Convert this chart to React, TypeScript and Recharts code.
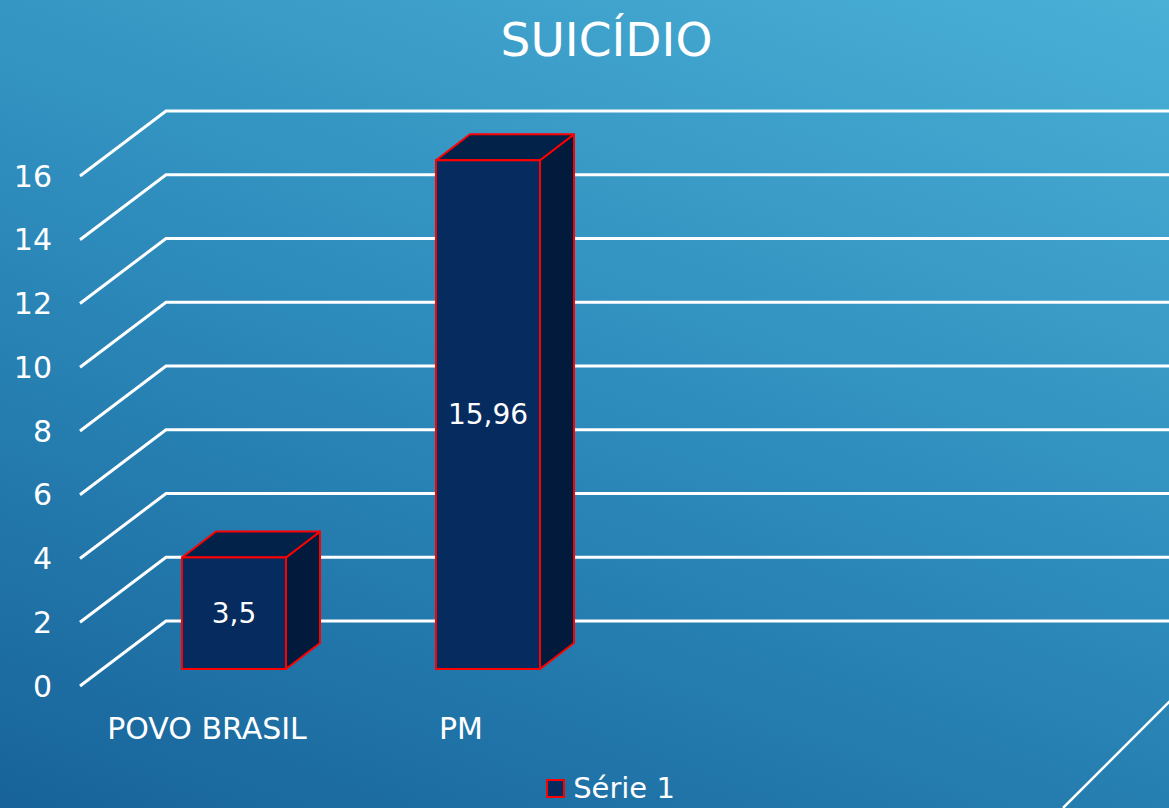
import { BarChart, Bar, XAxis, YAxis, CartesianGrid, Legend, LabelList } from 'recharts';

const categories = ['POVO BRASIL', 'PM'];
const serie1 = [3.5, 15.96];
const yTicks = [0, 2, 4, 6, 8, 10, 12, 14, 16];
const seriesName = 'Série 1';

const data = categories.map((name, i) => ({ name, value: serie1[i] }));

const W = 1169;
const H = 808;
const FONT = '"DejaVu Sans", sans-serif';

// 3D offsets (front plane -> bar front, bar depth, back wall)
const BAR_DX = 27;
const BAR_DY = -17;
const DEPTH_X = 34;
const DEPTH_Y = -26;
const WALL_X = 86;
const WALL_Y = -65;

const Bar3D = (props: any) => {
    const { x, y, width, height } = props;
    const fx = x + BAR_DX;
    const fy = y + BAR_DY;
    const top = `M${fx},${fy} L${fx + DEPTH_X},${fy + DEPTH_Y} L${fx + width + DEPTH_X},${fy + DEPTH_Y} L${fx + width},${fy} Z`;
    const side = `M${fx + width},${fy} L${fx + width + DEPTH_X},${fy + DEPTH_Y} L${fx + width + DEPTH_X},${fy + height + DEPTH_Y} L${fx + width},${fy + height} Z`;
    return (
        <g>
            <path d={side} fill="#021B3C" stroke="#FF0000" strokeWidth={2} strokeLinejoin="round" />
            <path d={top} fill="#03224A" stroke="#FF0000" strokeWidth={2} strokeLinejoin="round" />
            <rect x={fx} y={fy} width={width} height={height} fill="#062B5E" stroke="#FF0000" strokeWidth={2} />
        </g>
    );
};

const ValueLabel = (props: any) => {
    const { x, y, width, height, value } = props;
    return (
        <text
            x={x + BAR_DX + width / 2}
            y={y + BAR_DY + height / 2}
            textAnchor="middle"
            dominantBaseline="central"
            fill="#FFFFFF"
            fontSize={28}
            fontFamily={FONT}
        >
            {String(value).replace('.', ',')}
        </text>
    );
};

const GridLine = (props: any) => {
    const { x1, y1, index } = props;
    const bx = x1 + WALL_X;
    const by = y1 + WALL_Y;
    return (
        <g key={`grid-${index}`}>
            <path d={`M${x1},${y1} L${bx},${by} L${W + 10},${by}`} fill="none" stroke="#FFFFFF" strokeWidth={3} />
            {index === 0 && (
                <line x1={x1 + 983} y1={y1 + 122} x2={x1 + 1095} y2={y1 + 10} stroke="#FFFFFF" strokeWidth={2.5} />
            )}
        </g>
    );
};

const LegendContent = () => (
    <div style={{ display: 'flex', justifyContent: 'center', alignItems: 'center', paddingLeft: 52, fontFamily: FONT, color: '#FFFFFF', fontSize: 29 }}>
        <span style={{ display: 'inline-block', width: 15, height: 15, background: '#062B5E', border: '2px solid #FF0000', marginRight: 8 }} />
        <span>{seriesName}</span>
    </div>
);

const App = () => {
    return (
        <div
            style={{
                position: 'absolute',
                left: 0,
                top: 0,
                width: W,
                height: H,
                overflow: 'hidden',
                background: 'linear-gradient(200deg, #4AB0D6 0%, #2D8BBB 50%, #17639A 100%)',
            }}
        >
            <div
                style={{
                    position: 'absolute',
                    top: 12,
                    left: 22,
                    width: W,
                    textAlign: 'center',
                    color: '#FFFFFF',
                    fontFamily: FONT,
                    fontSize: 47,
                }}
            >
                SUICÍDIO
            </div>
            <BarChart
                width={W}
                height={H}
                data={data}
                margin={{ top: 176, right: 581, left: 0, bottom: 0 }}
                barSize={104}
                style={{ position: 'absolute', left: 0, top: 0 }}
            >
                <CartesianGrid vertical={false} horizontal={GridLine} />
                <XAxis
                    dataKey="name"
                    height={122}
                    axisLine={false}
                    tickLine={false}
                    tickSize={0}
                    tickMargin={32}
                    tick={{ fill: '#FFFFFF', fontSize: 30, fontFamily: FONT }}
                    interval={0}
                />
                <YAxis
                    width={80}
                    domain={[0, 16]}
                    ticks={yTicks}
                    axisLine={false}
                    tickLine={false}
                    tickSize={0}
                    tickMargin={28}
                    tick={{ fill: '#FFFFFF', fontSize: 30, fontFamily: FONT }}
                />
                <Legend
                    verticalAlign="middle"
                    align="center"
                    content={<LegendContent />}
                    wrapperStyle={{ top: 771, left: 0, width: W }}
                />
                <Bar dataKey="value" name={seriesName} shape={<Bar3D />} isAnimationActive={false}>
                    <LabelList dataKey="value" content={<ValueLabel />} />
                </Bar>
            </BarChart>
        </div>
    );
};

export default App;
